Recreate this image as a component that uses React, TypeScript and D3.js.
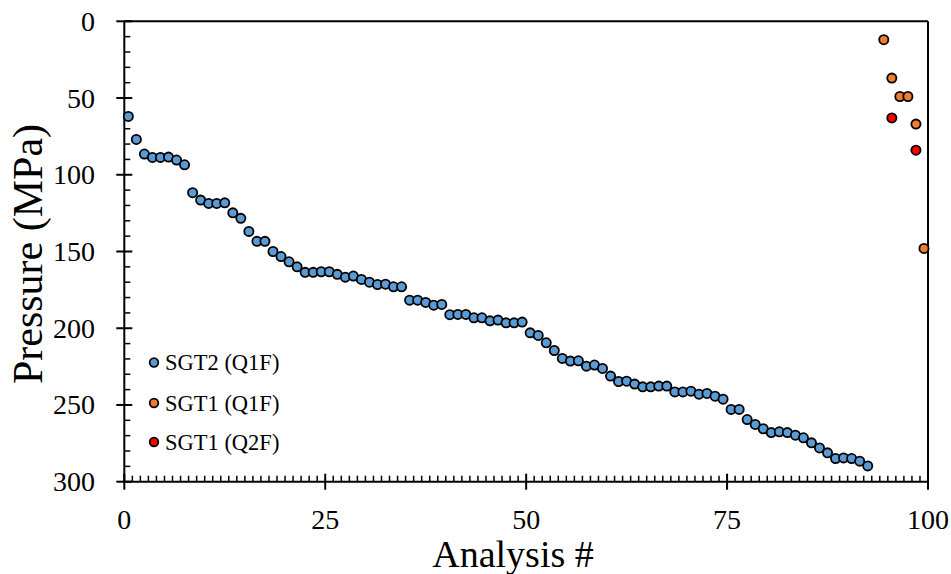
import React from "react";
import * as d3 from "d3";

const sgt2Q1F: number[] = [
  62, 77, 86.5, 88.7, 88.7, 88.5, 90.4, 93.5, 111.7, 116.5,
  118.7, 118.7, 118.3, 124.8, 128.4, 136.9, 143.4, 143.4, 150, 153.3,
  156.7, 160, 163.6, 163.6, 163.2, 163.2, 164.9, 166.7, 166, 168.2,
  170, 171.5, 171.3, 173, 173, 181.7, 181.7, 183.2, 185, 184.5,
  191.2, 191, 191, 193.2, 193.2, 195.2, 194.7, 196.5, 196.5, 196,
  203, 204.7, 209.5, 214.5, 219.7, 221.4, 221.2, 224.7, 224, 226.2,
  231.2, 234.7, 234.5, 236.4, 238.2, 238.2, 237.7, 237.7, 241.5, 241.5,
  241, 243, 242.5, 244.3, 246.2, 252.9, 252.9, 259.5, 262.7, 265.5,
  268, 267.5, 268, 269.7, 271.4, 274.7, 278, 281.2, 284.9, 284.5,
  284.9, 286.6, 289.7,
];

const sgt1Q1FAnalysis: number[] = [94.5, 95.5, 96.5, 97.5, 98.5, 99.5];
const sgt1Q1FPressure: number[] = [12, 37, 49, 49, 67, 148];

const sgt1Q2FAnalysis: number[] = [95.5, 98.5];
const sgt1Q2FPressure: number[] = [63, 84];

const xTicks: number[] = [0, 25, 50, 75, 100];
const yTicks: number[] = [0, 50, 100, 150, 200, 250, 300];

const legendLabels: string[] = ["SGT2 (Q1F)", "SGT1 (Q1F)", "SGT1 (Q2F)"];
const colors: string[] = ["#5B9BD5", "#ED7D31", "#FF0000"];

const FONT = "'Times New Roman', 'Liberation Serif', serif";

export default function App() {
  const W = 951;
  const H = 574;
  const left = 124.3;
  const right = 928;
  const top = 21.3;
  const bottom = 481.7;

  const x = d3.scaleLinear().domain([0, 100]).range([left, right]);
  const y = d3.scaleLinear().domain([0, 300]).range([top, bottom]);

  const xMinor = d3.range(0, 101, 1).filter((v) => v % 25 !== 0);
  const yMinor = d3.range(0, 301, 10).filter((v) => v % 50 !== 0);

  const r = 4.6;
  const sw = 1.8;

  const blue = sgt2Q1F.map((p, i) => ({ a: i + 0.5, p }));
  const orange = sgt1Q1FAnalysis.map((a, i) => ({ a, p: sgt1Q1FPressure[i] }));
  const red = sgt1Q2FAnalysis.map((a, i) => ({ a, p: sgt1Q2FPressure[i] }));

  const legendY = [362.5, 403, 442];

  return (
    <svg
      width={W}
      height={H}
      style={{ position: "absolute", left: 0, top: 0, background: "#fff" }}
    >
      <rect x={0} y={0} width={W} height={H} fill="#fff" />
      <line x1={right} x2={right} y1={top} y2={bottom} stroke="#000" strokeWidth={2} />
      <line x1={left} x2={right} y1={top} y2={top} stroke="#000" strokeWidth={2} />
      {xMinor.map((v) => (
        <line key={"xm" + v} x1={x(v)} x2={x(v)} y1={bottom} y2={bottom - 6} stroke="#000" strokeWidth={1.5} />
      ))}
      {yMinor.map((v) => (
        <line key={"ym" + v} x1={left} x2={left + 6} y1={y(v)} y2={y(v)} stroke="#000" strokeWidth={1.5} />
      ))}
      {xTicks.map((v) => (
        <line key={"xM" + v} x1={x(v)} x2={x(v)} y1={bottom - 8} y2={bottom + 8} stroke="#000" strokeWidth={2} />
      ))}
      {yTicks.map((v) => (
        <line key={"yM" + v} x1={left - 8} x2={left + 8} y1={y(v)} y2={y(v)} stroke="#000" strokeWidth={2} />
      ))}
      <line x1={left} x2={left} y1={top} y2={bottom} stroke="#000" strokeWidth={2} />
      <line x1={left} x2={right} y1={bottom} y2={bottom} stroke="#000" strokeWidth={2} />
      {xTicks.map((v) => (
        <text key={"xl" + v} x={x(v)} y={529} textAnchor="middle" fontFamily={FONT} fontSize={28} fill="#000">
          {v}
        </text>
      ))}
      {yTicks.map((v) => (
        <text key={"yl" + v} x={95} y={y(v) + 9.5} textAnchor="end" fontFamily={FONT} fontSize={28} fill="#000">
          {v}
        </text>
      ))}
      <text x={513} y={567} textAnchor="middle" fontFamily={FONT} fontSize={38} fill="#000">
        Analysis #
      </text>
      <text
        transform={`translate(42, 254) rotate(-90)`}
        textAnchor="middle"
        fontFamily={FONT}
        fontSize={42}
        fill="#000"
      >
        Pressure (MPa)
      </text>
      {blue.map((d, i) => (
        <circle key={"b" + i} cx={x(d.a)} cy={y(d.p)} r={r} fill={colors[0]} stroke="#000" strokeWidth={sw} />
      ))}
      {orange.map((d, i) => (
        <circle key={"o" + i} cx={x(d.a)} cy={y(d.p)} r={r} fill={colors[1]} stroke="#000" strokeWidth={sw} />
      ))}
      {red.map((d, i) => (
        <circle key={"r" + i} cx={x(d.a)} cy={y(d.p)} r={r} fill={colors[2]} stroke="#000" strokeWidth={sw} />
      ))}
      {legendLabels.map((lab, i) => (
        <g key={"lg" + i}>
          <circle cx={154} cy={legendY[i]} r={4.3} fill={colors[i]} stroke="#000" strokeWidth={1.8} />
          <text x={165} y={legendY[i] + 7.5} fontFamily={FONT} fontSize={22.5} fill="#000">
            {lab}
          </text>
        </g>
      ))}
    </svg>
  );
}
